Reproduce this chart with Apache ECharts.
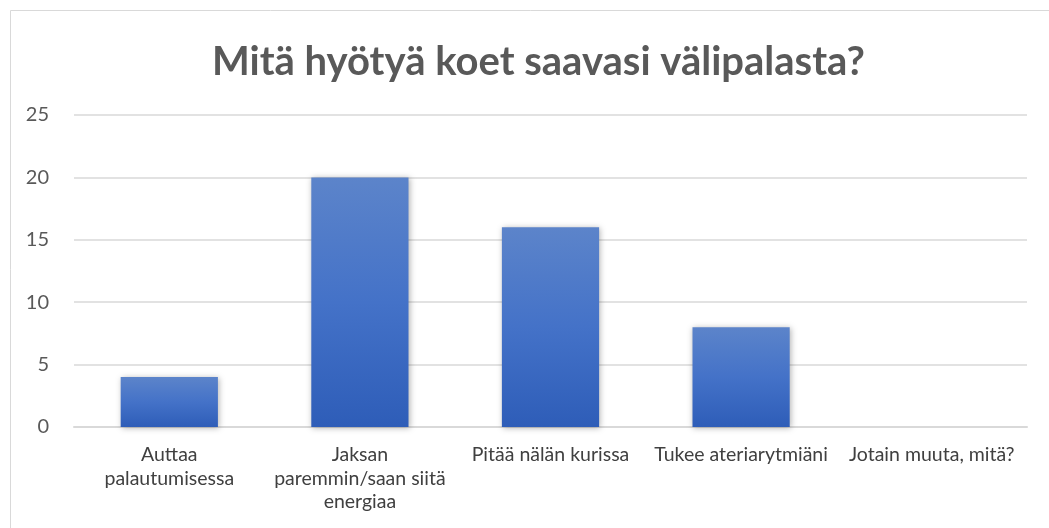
<!DOCTYPE html>
<head>
    <meta charset="utf-8">
    <title>ECharts</title>
    <style>
        html, body { margin: 0; padding: 0; background: #fff; }
        #main { width: 1049px; height: 528px; }
    </style>
</head>
<body>
<div id="main"></div>
<script src="https://cdn.jsdelivr.net/npm/echarts@6/dist/echarts.min.js"></script>
<script type="text/javascript">
    // kategoriat ja vastausmäärät
    var categories = ['Auttaa\npalautumisessa', 'Jaksan\nparemmin/saan siitä\nenergiaa', 'Pitää nälän kurissa', 'Tukee ateriarytmiäni', 'Jotain muuta, mitä?'];
    var counts = [4, 20, 16, 8, 0];
    var yTicks = [0, 5, 10, 15, 20, 25];

    var chart = echarts.init(document.getElementById('main'));
    chart.setOption({
        backgroundColor: '#fff',
        animation: false,
        graphic: [{
            type: 'rect',
            shape: { x: 10.5, y: 10.5, width: 1100, height: 600 },
            style: { fill: 'none', stroke: '#d9d9d9', lineWidth: 1 },
            silent: true
        }],
        title: {
            text: 'Mitä hyötyä koet saavasi välipalasta?',
            left: 207,
            top: 37,
            textStyle: {
                fontFamily: 'Lato',
                fontWeight: 'bold',
                fontSize: 40,
                color: '#595959'
            }
        },
        grid: { left: 74, right: 22, top: 115, bottom: 101 },
        xAxis: {
            type: 'category',
            data: categories,
            axisLine: { lineStyle: { color: '#d9d9d9', width: 2 } },
            axisTick: { show: false },
            axisLabel: {
                interval: 0,
                margin: 16,
                fontFamily: 'Lato',
                fontSize: 19.5,
                lineHeight: 23.5,
                color: '#404040'
            }
        },
        yAxis: {
            type: 'value',
            min: yTicks[0],
            max: yTicks[yTicks.length - 1],
            interval: 5,
            axisLine: { show: false },
            axisTick: { show: false },
            axisLabel: {
                margin: 25,
                fontFamily: 'Lato',
                fontSize: 20,
                color: '#595959'
            },
            splitLine: { lineStyle: { color: '#d9d9d9', width: 1.5 } }
        },
        series: [{
            type: 'bar',
            data: counts,
            barWidth: '51%',
            itemStyle: {
                color: new echarts.graphic.LinearGradient(0, 0, 0, 1, [
                    { offset: 0, color: '#5c84ca' },
                    { offset: 0.5, color: '#4472c8' },
                    { offset: 1, color: '#2e5db8' }
                ]),
                shadowBlur: 6,
                shadowColor: 'rgba(0,0,0,0.3)',
                shadowOffsetX: 1,
                shadowOffsetY: 1
            }
        }]
    });
</script>
</body>
